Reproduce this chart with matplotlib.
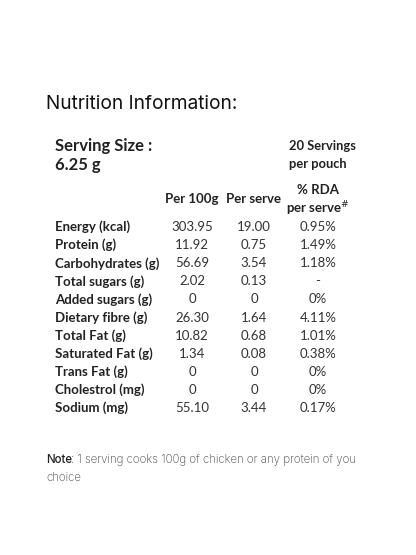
import matplotlib.pyplot as plt

nutrients = ["Energy (kcal)", "Protein (g)", "Carbohydrates (g)", "Total sugars (g)",
             "Added sugars (g)", "Dietary fibre (g)", "Total Fat (g)", "Saturated Fat (g)",
             "Trans Fat (g)", "Cholestrol (mg)", "Sodium (mg)"]
per_100g = ["303.95", "11.92", "56.69", "2.02", "0", "26.30", "10.82", "1.34", "0", "0", "55.10"]
per_serve = ["19.00", "0.75", "3.54", "0.13", "0", "1.64", "0.68", "0.08", "0", "0", "3.44"]
rda = ["0.95%", "1.49%", "1.18%", "-", "0%", "4.11%", "1.01%", "0.38%", "0%", "0%", "0.17%"]

body = ["Lato", "DejaVu Sans"]
head = ["Inter", "DejaVu Sans"]

fig = plt.figure(figsize=(4.16, 5.55), dpi=100)
ax = fig.add_axes([0, 0, 1, 1])
ax.set_xlim(0, 416)
ax.set_ylim(555, 0)
ax.axis("off")

ax.text(46, 104, "Nutrition Information:", fontsize=13.8, family=head,
        fontweight="normal", color="#111111", va="center")

ax.text(55, 146, "Serving Size :", fontsize=12, family=body, fontweight="bold",
        color="#222222", va="center")
ax.text(55, 165, "6.25 g", fontsize=12, family=body, fontweight="bold",
        color="#222222", va="center")
ax.text(289, 146, "20 Servings", fontsize=9.3, family=body, fontweight="bold",
        color="#222222", va="center")
ax.text(289, 164, "per pouch", fontsize=9.3, family=body, fontweight="bold",
        color="#222222", va="center")

col_x = [192, 254, 318]
ax.text(col_x[0], 199, "Per 100g", fontsize=9.5, family=body, fontweight="bold",
        color="#222222", ha="center", va="center")
ax.text(col_x[1], 199, "Per serve", fontsize=9.5, family=body, fontweight="bold",
        color="#222222", ha="center", va="center")
ax.text(col_x[2], 190, "% RDA", fontsize=9.5, family=body, fontweight="bold",
        color="#222222", ha="center", va="center")
ax.text(col_x[2], 209, "per serve$^{\\#}$", fontsize=9.5, family=body, fontweight="bold",
        color="#222222", ha="center", va="center")

y0, dy = 227, 18.1
for i, name in enumerate(nutrients):
    y = y0 + i * dy
    ax.text(55, y, name, fontsize=9.5, family=body, fontweight="bold",
            color="#222222", va="center")
    for x, col in zip(col_x, [per_100g, per_serve, rda]):
        ax.text(x, y, col[i], fontsize=9.5, family=body, color="#333333",
                ha="center", va="center")

ax.text(46, 460, "Note", fontsize=8.3, family=head, fontweight="medium",
        color="#222222", va="center")
ax.text(71, 460, ": 1 serving cooks 100g of chicken or any protein of you",
        fontsize=8.3, family=head, fontweight="light", color="#444444", va="center")
ax.text(46, 478, "choice", fontsize=8.3, family=head, fontweight="light",
        color="#444444", va="center")

fig.savefig("out.png", dpi=100, facecolor="white")
